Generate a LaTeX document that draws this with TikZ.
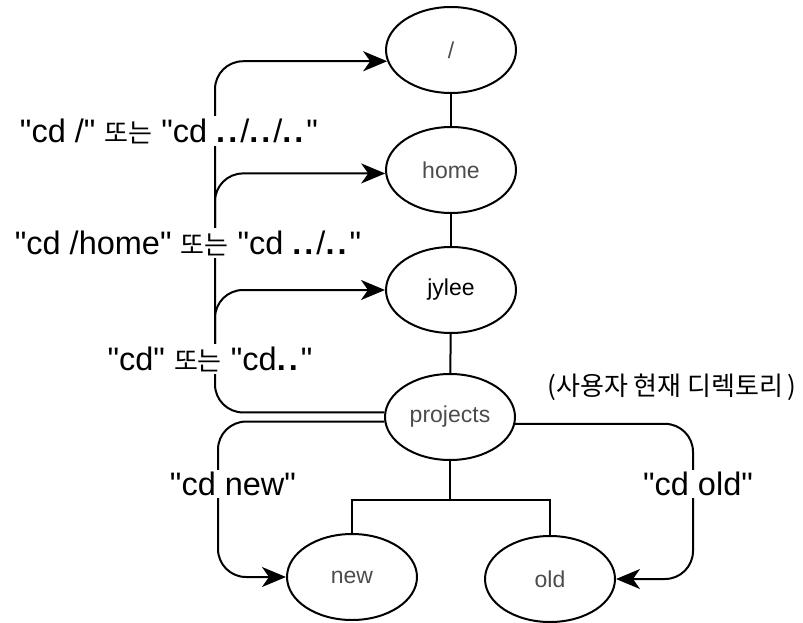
\documentclass[tikz,border=0pt]{standalone}
\usepackage{fontspec}
\setmainfont{Liberation Sans}
\newfontfamily\kofont{Noto Sans CJK KR}
\usetikzlibrary{arrows.meta,shapes.geometric}
% straight double quote and heavy, slightly spaced dots
\newcommand\qq{\textquotedbl}
\newcommand\pdot{{\bfseries.}\kern3pt}
\newcommand\ko[1]{{\kofont\fontsize{26}{30}\selectfont #1}}
\begin{document}
\begin{tikzpicture}[x=1pt,y=-1pt,line width=2pt,
  dir/.style={draw, ellipse, minimum width=130pt, minimum height=86pt,
    inner sep=0pt, text=black!70, font=\fontsize{23}{27}\selectfont},
  link/.style={line width=2pt},
  jump/.style={line width=2pt, rounded corners=28pt,
    -{Stealth[length=24pt,width=20pt,inset=7pt]}},
  cmd/.style={fill=white, inner sep=2pt, font=\fontsize{32.5}{38}\selectfont}]
\useasboundingbox (0,0) rectangle (803,623);

% directory tree
\node[dir] (root) at (451,50) {/};
\node[dir] (home) at (451,170) {home};
\node[dir, text=black] (jylee) at (451,290) {jylee};
\node[dir] (projects) at (450,417) {projects};
\node[dir] (new) at (352,577) {new};
\node[dir] (old) at (550,579) {old};

\draw[link] (root) -- (home);
\draw[link] (home) -- (jylee);
\draw[link] (jylee) -- (projects);
\coordinate (fork) at (450,500);
\draw[link] (projects) -- (fork);
\draw[link] (fork) -| (new.north);
\draw[link] (fork) -| (old.north);

% moves upward from projects
\coordinate (b1) at (215,240);
\coordinate (b2) at (215,350);
\draw[jump] (projects.176) -| (215,0 |- root.190) -- (root.190);
\draw[jump] (b1) |- (home.183);
\draw[jump] (b2) |- (jylee.west);

% moves downward from projects
\draw[jump] (projects.184) -| (218,0 |- new.west) -- (new.west);
\draw[jump] (projects.354) -| (693,0 |- old.east) -- (old.east);

% command labels
\node[cmd] (c1) at (169,131) {\qq cd /\qq{} \ko{또는} \qq cd \pdot\pdot/\pdot\pdot/\pdot\pdot\qq};
\node[cmd] (c2) at (188,243) {\qq cd /home\qq{} \ko{또는} \qq cd \pdot\pdot/\pdot\pdot\qq};
\node[cmd] (c3) at (210,359) {\qq cd\qq{} \ko{또는} \qq cd\pdot\pdot\qq};
\node[cmd] (c4) at (233,484) {\qq cd new\qq};
\node[cmd] (c5) at (698,484) {\qq cd old\qq};

\node[font=\kofont\fontsize{26}{30}\selectfont] (cur) at (672,387) {(사용자 현재 디렉토리\,)};
\end{tikzpicture}
\end{document}
